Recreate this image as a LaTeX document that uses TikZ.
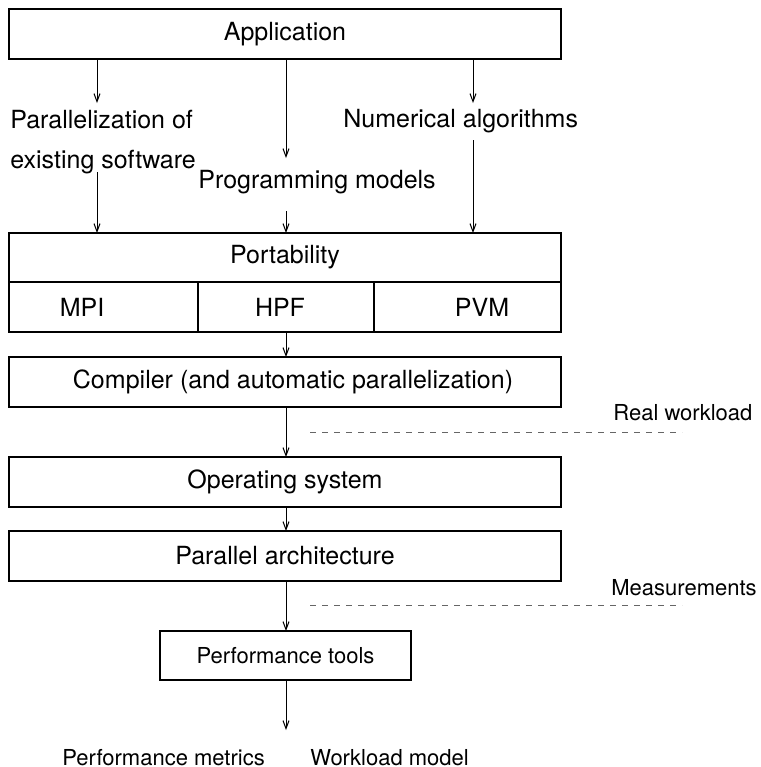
\documentclass[tikz,border=0pt]{standalone}
\usepackage{fontspec}
\setmainfont{TeX Gyre Heros}
\usetikzlibrary{arrows.meta,positioning}
\newcommand{\bigtxt}{\fontsize{12.5}{15}\selectfont}
\newcommand{\smalltxt}{\fontsize{11}{13}\selectfont}

\begin{document}
\begin{tikzpicture}[x=0.5pt,y=0.5pt,yscale=-1,
	layer/.style={draw, line width=0.65pt, inner sep=0pt, outer sep=0pt, minimum height=25pt, font=\bigtxt},
	flow/.style={-{Straight Barb[length=4pt,width=3pt]}, line width=0.5pt},
	level/.style={dash pattern=on 3pt off 3pt, line width=0.5pt, black!60},
	txt/.style={inner sep=0pt, anchor=base west, font=\bigtxt},
	note/.style={inner sep=0pt, anchor=base west, font=\smalltxt}]
	\useasboundingbox (0,0) rectangle (761,767);
	
	%Layers
	\node[layer, minimum width=276pt] (app) at (285,34) {Application};
	\node[layer, minimum width=276pt, minimum height=24.5pt] (port) at (285,257.5) {Portability};
	\node[layer, minimum width=94.5pt, anchor=north west] (mpibox) at (9,282) {};
	\node[layer, minimum width=88pt, anchor=north west] (hpfbox) at (mpibox.north east) {};
	\node[layer, minimum width=93.5pt, anchor=north west] (pvmbox) at (hpfbox.north east) {};
	\node[layer, minimum width=276pt] (comp) at (285,382) {};
	\node[layer, minimum width=276pt] (os) at (285,482) {Operating system};
	\node[layer, minimum width=276pt] (arch) at (285,556) {Parallel architecture};
	\node[layer, minimum width=125.5pt, minimum height=24.5pt, font=\smalltxt] (perf) at (285.5,655.5) {Performance tools};
	
	% Text Node
	\node[font=\bigtxt] (comptxt) at (293,382) {Compiler (and automatic parallelization)};
	\node[font=\bigtxt] (mpi) at (82,307) {MPI};
	\node[font=\bigtxt] (hpf) at (280,307) {HPF};
	\node[font=\bigtxt] (pvm) at (482,307) {PVM};
	
	% Text Node
	\node[txt] (par1) at (10,128) {Parallelization of};
	\node[txt] (par2) at (10,168) {existing software};
	\node[txt] (prog) at (198,188) {Programming models};
	\node[txt] (num) at (343,127) {Numerical algorithms};
	
	%Arrows
	\coordinate (pa) at (97,103);
	\coordinate (pb) at (97,172);
	\coordinate (ma) at (286,158);
	\coordinate (mb) at (286,211);
	\coordinate (na) at (473,103);
	\coordinate (nb) at (473,140);
	\coordinate (out) at (286,730);
	\draw[flow] (app.south -| pa) -- (pa);
	\draw[flow] (pb) -- (port.north -| pb);
	\draw[flow] (app.south -| ma) -- (ma);
	\draw[flow] (mb) -- (port.north -| mb);
	\draw[flow] (app.south -| na) -- (na);
	\draw[flow] (nb) -- (port.north -| nb);
	\draw[flow] (hpfbox.south -| ma) -- (comp.north -| ma);
	\draw[flow] (comp.south -| ma) -- (os.north -| ma);
	\draw[flow] (os.south -| ma) -- (arch.north -| ma);
	\draw[flow] (arch.south -| ma) -- (perf.north -| ma);
	\draw[flow] (perf.south -| out) -- (out);
	
	%Dashed levels
	\coordinate (rwa) at (310,432);
	\coordinate (rwb) at (682,432);
	\coordinate (msa) at (310,605);
	\coordinate (msb) at (682,605);
	\draw[level] (rwa) -- (rwb);
	\draw[level] (msa) -- (msb);
	
	% Text Node
	\node[note] (real) at (613,420) {Real workload};
	\node[note] (meas) at (611,595) {Measurements};
	\node[note] (metr) at (62,765) {Performance metrics};
	\node[note] (wlm) at (310,765) {Workload model};
	
\end{tikzpicture}
\end{document}
